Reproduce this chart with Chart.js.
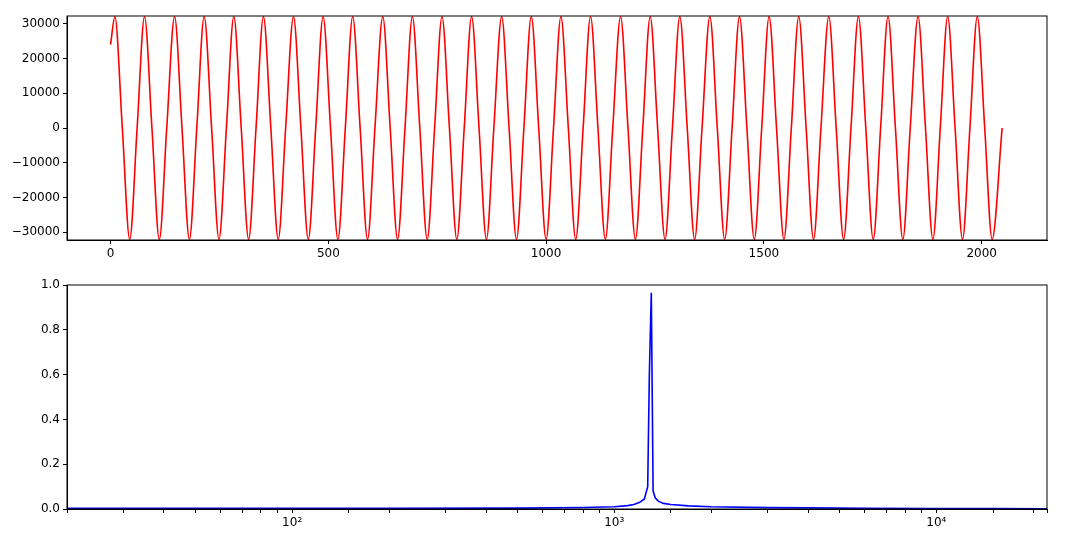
<!DOCTYPE html>
<html><head><meta charset="utf-8">
<script src="https://cdn.jsdelivr.net/npm/chart.js@4"></script>
<style>body{margin:0;background:#fff}.c{position:absolute;left:0;width:1080px;height:270px}</style>
</head><body>
<div class="c" style="top:0"><canvas id="a"></canvas></div>
<div class="c" style="top:270px"><canvas id="b"></canvas></div>
<script>
const waveX=[0,10,27,44,61,78,95,112,129,147,164,181,198,215,232,249,266,283,300,317,334,351,368,385,402,420,437,454,471,488,505,522,539,556,573,590,607,625,642,659,676,693,710,727,744,761,778,795,812,829,846,863,880,898,915,932,949,966,983,1000,1017,1034,1051,1068,1085,1102,1119,1136,1153,1171,1188,1205,1222,1239,1256,1273,1290,1307,1324,1341,1358,1376,1393,1410,1427,1444,1461,1478,1495,1512,1529,1546,1563,1580,1597,1614,1631,1649,1666,1683,1700,1717,1734,1751,1768,1785,1802,1819,1836,1854,1871,1888,1905,1922,1939,1956,1973,1990,2007,2024,2047];
const waveY=[24000,32000,0,-32000,0,32000,0,-32000,0,32000,0,-32000,0,32000,0,-32000,0,32000,0,-32000,0,32000,0,-32000,0,32000,0,-32000,0,32000,0,-32000,0,32000,0,-32000,0,32000,0,-32000,0,32000,0,-32000,0,32000,0,-32000,0,32000,0,-32000,0,32000,0,-32000,0,32000,0,-32000,0,32000,0,-32000,0,32000,0,-32000,0,32000,0,-32000,0,32000,0,-32000,0,32000,0,-32000,0,32000,0,-32000,0,32000,0,-32000,0,32000,0,-32000,0,32000,0,-32000,0,32000,0,-32000,0,32000,0,-32000,0,32000,0,-32000,0,32000,0,-32000,0,32000,0,-32000,0,32000,0,-32000,0,32000,0,-32000,2500];
const specX=[20,50,100,200,500,800,1000,1100,1150,1200,1240,1270,1285,1303,1320,1340,1370,1420,1500,1700,2000,3000,4000,6000,10000,15000,22050];
const specY=[0.003,0.003,0.003,0.003,0.004,0.007,0.01,0.015,0.02,0.03,0.045,0.1,0.6,0.965,0.08,0.05,0.035,0.025,0.02,0.014,0.01,0.006,0.005,0.003,0.002,0.0015,0.001];
const topXTicks=[0,500,1000,1500,2000];
const topYTicks=[-30000,-20000,-10000,0,10000,20000,30000];
const botXTicks=[100,1000,10000];
const botXLabels=['10²','10³','10⁴'];
const botYTicks=[0,0.2,0.4,0.6,0.8,1.0];

Chart.defaults.font.family='DejaVu Sans';Chart.defaults.font.size=12;Chart.defaults.color='#000';
const box={id:'box',afterDraw(c){const a=c.chartArea,x=c.ctx;x.save();x.strokeStyle='#000';x.lineWidth=1;x.strokeRect(a.left,a.top,a.right-a.left,a.bottom-a.top);x.restore();}};
const minus=v=>String(v).replace('-','−');
function grid(){return {display:true,drawOnChartArea:false,drawTicks:true,tickLength:4,color:'#000'};}
function fitW(w){return s=>{s.width=w;};}
function fitH(h){return s=>{s.height=h;};}
new Chart(document.getElementById('a'),{type:'scatter',plugins:[box],
 data:{datasets:[{data:waveX.map((x,i)=>({x,y:waveY[i]})),showLine:true,borderColor:'#f00',borderWidth:1.6,pointRadius:0,tension:0.4,cubicInterpolationMode:'monotone'}]},
 options:{responsive:true,maintainAspectRatio:false,animation:false,layout:{padding:{top:16,right:33,left:0,bottom:0}},
 plugins:{legend:{display:false},tooltip:{enabled:false}},
 scales:{x:{type:'linear',min:-100,max:2150,grid:grid(),border:{color:'#000'},afterFit:fitH(30),
   afterBuildTicks:s=>{s.ticks=topXTicks.map(v=>({value:v}));},ticks:{maxRotation:0,callback:v=>minus(v)}},
  y:{min:-32200,max:32200,grid:grid(),border:{color:'#000'},afterFit:fitW(67),
   afterBuildTicks:s=>{s.ticks=topYTicks.map(v=>({value:v}));},ticks:{callback:v=>minus(v)}}}}});
new Chart(document.getElementById('b'),{type:'scatter',plugins:[box],
 data:{datasets:[{data:specX.map((x,i)=>({x,y:specY[i]})),showLine:true,borderColor:'#00f',borderWidth:1.6,pointRadius:0}]},
 options:{responsive:true,maintainAspectRatio:false,animation:false,layout:{padding:{top:15,right:33,left:0,bottom:0}},
 plugins:{legend:{display:false},tooltip:{enabled:false}},
 scales:{x:{type:'logarithmic',min:20,max:22050,grid:grid(),border:{color:'#000'},afterFit:fitH(31),
   ticks:{maxRotation:0,autoSkip:false,callback:v=>{const i=botXTicks.indexOf(v);return i>=0?botXLabels[i]:'';}}},
  y:{min:0,max:1,grid:grid(),border:{color:'#000'},afterFit:fitW(67),
   afterBuildTicks:s=>{s.ticks=botYTicks.map(v=>({value:v}));},ticks:{callback:v=>v.toFixed(1)}}}}});
</script></body></html>
